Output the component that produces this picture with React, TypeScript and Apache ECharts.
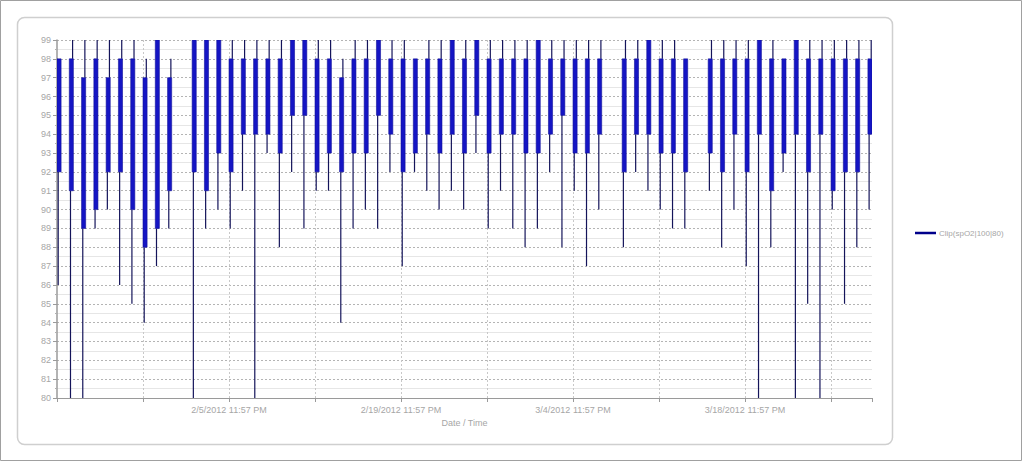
import React, { useEffect, useRef } from "react";
import * as echarts from "echarts";

// ---- data ----
const seriesName = "Clip(spO2|100|80)";
const axisName = "Date / Time";
// first night of the recording starts 1/22/2012 11:57 PM
const recordStart = { year: 2012, month: 1, day: 22, hour: 23, minute: 57 };
const nightHours = 8;

const nightDates = [
  "2012-01-22", "2012-01-23", "2012-01-24", "2012-01-25", "2012-01-26", "2012-01-27",
  "2012-01-28", "2012-01-29", "2012-01-30", "2012-01-31",
  "2012-02-02", "2012-02-03", "2012-02-04", "2012-02-05", "2012-02-06", "2012-02-07",
  "2012-02-08", "2012-02-09", "2012-02-10", "2012-02-11", "2012-02-12", "2012-02-13",
  "2012-02-14", "2012-02-15", "2012-02-16", "2012-02-17", "2012-02-18", "2012-02-19",
  "2012-02-20", "2012-02-21", "2012-02-22", "2012-02-23", "2012-02-24", "2012-02-25",
  "2012-02-26", "2012-02-27", "2012-02-28", "2012-02-29", "2012-03-01", "2012-03-02",
  "2012-03-03", "2012-03-04", "2012-03-05", "2012-03-06",
  "2012-03-08", "2012-03-09", "2012-03-10", "2012-03-11", "2012-03-12", "2012-03-13",
  "2012-03-15", "2012-03-16", "2012-03-17", "2012-03-18", "2012-03-19", "2012-03-20",
  "2012-03-21", "2012-03-22", "2012-03-23", "2012-03-24", "2012-03-25", "2012-03-26",
  "2012-03-27", "2012-03-28",
];
// dense part of each night's trace
const bandTop = [
  98, 98, 97, 98, 97, 98, 98, 97, 99, 97,
  99, 99, 99, 98, 98, 98, 98, 98, 99, 99, 98, 98, 97, 98, 98, 99, 98, 98, 98, 98, 98, 99,
  98, 99, 98, 98, 98, 98, 99, 98, 98, 98, 98, 98,
  98, 98, 99, 98, 98, 98,
  98, 98, 98, 98, 99, 98, 98, 99, 98, 98, 98, 98, 98, 98,
];
const bandBottom = [
  92, 91, 89, 90, 92, 92, 90, 88, 89, 91,
  92, 91, 93, 92, 94, 94, 94, 93, 95, 95, 92, 93, 92, 93, 93, 95, 94, 92, 93, 94, 93, 94,
  93, 95, 93, 94, 94, 93, 93, 94, 95, 93, 93, 94,
  92, 94, 94, 93, 93, 92,
  93, 92, 94, 92, 94, 91, 93, 94, 92, 94, 91, 92, 92, 94,
];
// extreme readings of each night
const nightHigh = [
  98, 99, 99, 99, 99, 99, 99, 98, 99, 98,
  99, 99, 99, 99, 99, 99, 99, 99, 99, 99, 99, 99, 98, 99, 99, 99, 99, 99, 98, 99, 99, 99,
  99, 99, 99, 99, 99, 99, 99, 99, 99, 99, 99, 99,
  99, 99, 99, 99, 99, 98,
  99, 99, 99, 99, 99, 99, 98, 99, 99, 99, 99, 99, 99, 99,
];
const nightLow = [
  86, 80, 80, 89, 90, 86, 85, 84, 87, 89,
  80, 89, 90, 89, 91, 80, 93, 88, 92, 89, 91, 91, 84, 89, 90, 89, 92, 87, 92, 91, 90, 91,
  90, 93, 89, 91, 89, 88, 89, 92, 88, 91, 87, 90,
  88, 92, 91, 90, 89, 89,
  91, 88, 90, 87, 80, 88, 92, 80, 85, 80, 90, 85, 88, 90,
];

const yMin = 80;
const yMax = 99;
const xTickDays = 7;
const xLabelDays = 14;

// ---- helpers ----
const DAY = 86400000;
const baseTs = Date.UTC(recordStart.year, recordStart.month - 1, recordStart.day, recordStart.hour, recordStart.minute);
const baseDay = Date.UTC(recordStart.year, recordStart.month - 1, recordStart.day);

function dayOffset(iso: string): number {
  const [y, m, d] = iso.split("-").map(Number);
  return (Date.UTC(y, m - 1, d) - baseDay) / DAY;
}

function formatStamp(v: number): string {
  const d = new Date(baseTs + Math.round(v * DAY));
  let h = d.getUTCHours();
  const ap = h >= 12 ? "PM" : "AM";
  h = h % 12;
  if (h === 0) h = 12;
  const mm = String(d.getUTCMinutes()).padStart(2, "0");
  return `${d.getUTCMonth() + 1}/${d.getUTCDate()}/${d.getUTCFullYear()} ${h}:${mm} ${ap}`;
}

const nightData = nightDates.map((date, i) => {
  const s = dayOffset(date);
  return [s, s + nightHours / 24, bandTop[i], bandBottom[i], nightHigh[i], nightLow[i]];
});
const xMax = Math.max(...nightData.map((r) => r[1] as number));

const FONT = "'Liberation Sans', Arial, sans-serif";
const TXT = "#a6a6a6";

export default function App() {
  const ref = useRef<HTMLDivElement>(null);
  useEffect(() => {
    if (!ref.current) return;
    const chart = echarts.init(ref.current, undefined, { renderer: "svg" });
    chart.setOption({
      animation: false,
      backgroundColor: "#ffffff",
      textStyle: { fontFamily: FONT },
      graphic: [
        {
          type: "rect",
          z: 0,
          shape: { x: 0.5, y: 0.5, width: 1021, height: 460 },
          style: { fill: "none", stroke: "#a0a0a0", lineWidth: 1 },
          silent: true,
        },
        {
          type: "rect",
          z: 0,
          shape: { x: 17.5, y: 17.5, width: 875, height: 427, r: 7 },
          style: { fill: "none", stroke: "#cfcfcf", lineWidth: 1.5 },
          silent: true,
        },
      ],
      legend: {
        left: 910,
        top: 224,
        orient: "vertical",
        itemWidth: 21,
        itemHeight: 2.5,
        itemGap: 6,
        textStyle: { color: TXT, fontSize: 8, fontFamily: FONT, padding: [0, 0, 0, -2] },
        data: [{ name: seriesName, icon: "rect", itemStyle: { color: "#00008b" } }],
      },
      grid: { left: 57, top: 40, width: 815, height: 358, containLabel: false },
      xAxis: {
        type: "value",
        min: 0,
        max: xMax,
        interval: xTickDays,
        name: axisName,
        nameLocation: "middle",
        nameGap: 20,
        nameTextStyle: { color: TXT, fontSize: 9, fontFamily: FONT },
        axisLine: { show: true, lineStyle: { color: "#9a9a9a", width: 1 } },
        axisTick: { show: true, length: 4, lineStyle: { color: "#9a9a9a" } },
        axisLabel: {
          color: TXT,
          fontSize: 9,
          margin: 7,
          fontFamily: FONT,
          formatter: (v: number) => {
            const r = Math.round(v);
            if (Math.abs(v - r) > 1e-6 || r <= 0 || r % xLabelDays !== 0) return "";
            return formatStamp(v);
          },
        },
        splitLine: {
          show: true,
          showMinLine: false,
          showMaxLine: false,
          lineStyle: { color: "#c8c8c8", type: [2, 2], width: 1 },
        },
      },
      yAxis: {
        type: "value",
        min: yMin,
        max: yMax,
        interval: 1,
        axisLine: { show: true, lineStyle: { color: "#9a9a9a", width: 1.5 } },
        axisTick: { show: true, length: 4, lineStyle: { color: "#9a9a9a" } },
        minorTick: { show: true, splitNumber: 2, length: 2, lineStyle: { color: "#b0b0b0" } },
        axisLabel: { color: TXT, fontSize: 9, margin: 6, fontFamily: FONT },
        splitLine: { show: true, lineStyle: { color: "#b4b4b4", type: [2, 2], width: 1 } },
        minorSplitLine: { show: true, lineStyle: { color: "#e6e6e6", width: 1 } },
      },
      series: [
        {
          type: "custom",
          name: seriesName,
          z: 3,
          clip: true,
          encode: { x: [0, 1], y: [2, 3, 4, 5] },
          data: nightData,
          renderItem: (params: any, api: any) => {
            const x0 = api.value(0);
            const x1 = api.value(1);
            const pTop = api.coord([x0, api.value(2)]);
            const pBot = api.coord([x1, api.value(3)]);
            const pHigh = api.coord([x1, api.value(4)]);
            const pLow = api.coord([x0, api.value(5)]);
            const left = pTop[0];
            const right = pBot[0];
            return {
              type: "group",
              children: [
                {
                  type: "line",
                  shape: { x1: right - 0.8, y1: pTop[1], x2: right - 0.8, y2: pHigh[1] },
                  style: { stroke: "#14145a", lineWidth: 1.2 },
                },
                {
                  type: "line",
                  shape: { x1: left + 1.2, y1: pBot[1], x2: left + 1.2, y2: pLow[1] },
                  style: { stroke: "#14145a", lineWidth: 1.2 },
                },
                {
                  type: "rect",
                  shape: { x: left, y: pTop[1], width: right - left, height: pBot[1] - pTop[1] },
                  style: { fill: "#1515c4", stroke: "#10109a", lineWidth: 0.6 },
                },
              ],
            };
          },
        },
      ],
    });
    return () => chart.dispose();
  }, []);
  return (
    <div
      ref={ref}
      style={{ position: "absolute", left: 0, top: 0, width: 1024, height: 462 }}
    />
  );
}
